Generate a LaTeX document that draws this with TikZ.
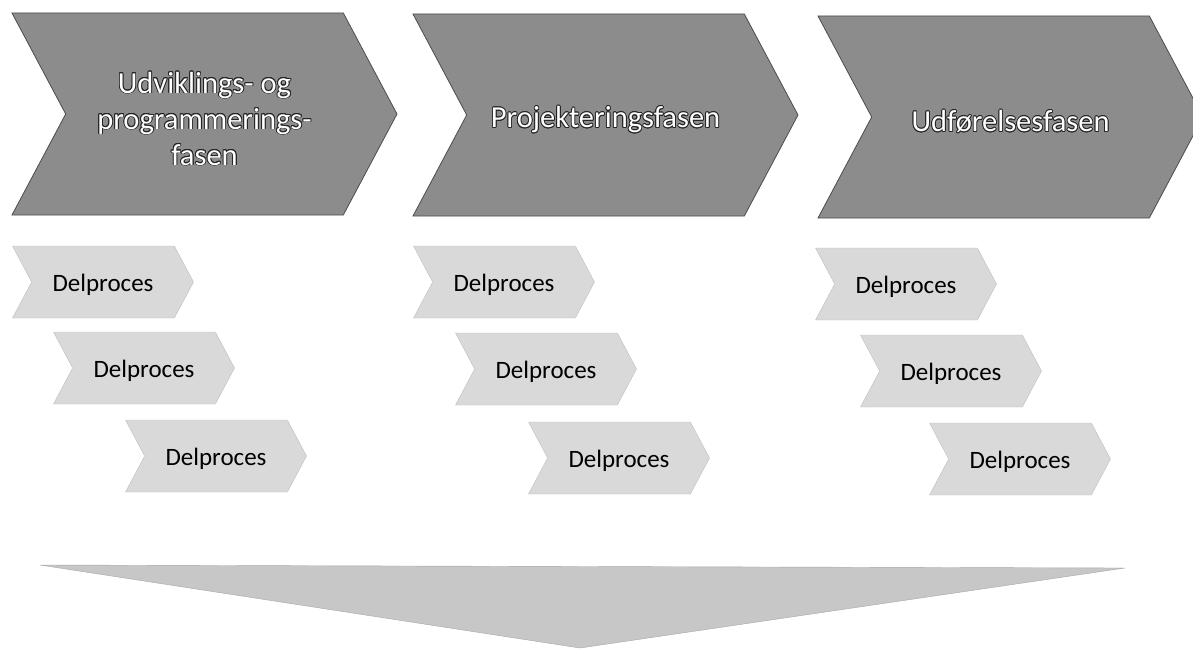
\documentclass[tikz,border=0pt]{standalone}
\usepackage{fontspec}
\setmainfont{Carlito}
\usepackage{contour}
\contourlength{0.8pt}
\usetikzlibrary{shapes.symbols}

\newcommand{\phasetext}[1]{\contour{black!85}{#1}}

\begin{document}
\begin{tikzpicture}[x=1pt, y=-1pt]

    \useasboundingbox (0,0) rectangle (1193,650);

    \tikzset{phasestyle/.style={shape=signal, signal from=west, signal to=east,
        signal pointer angle=124, fill=black!45, draw=black!70, line width=0.8pt,
        minimum width=385pt, minimum height=202pt, inner sep=0pt}}
    \tikzset{phaselabel/.style={text=white, align=center, yshift=-5pt,
        font=\fontsize{30.5}{36}\selectfont}}
    \tikzset{substyle/.style={shape=signal, signal from=west, signal to=east,
        signal pointer angle=124, fill=black!15, draw=black!25, line width=0.4pt,
        minimum width=181pt, minimum height=72pt, inner sep=0pt}}
    \tikzset{sublabel/.style={text=black, yshift=-3pt, font=\fontsize{25}{28}\selectfont}}

    % Faser
    \node[phasestyle] (f1) at ( 204.5, 114) {};
    \node[phasestyle] (f2) at ( 605.5, 115) {};
    \node[phasestyle] (f3) at ( 1010.5, 117) {};

    \node[phaselabel] (l1) at (f1) {\phasetext{Udviklings- og}\\
        \phasetext{programmerings-}\\ \phasetext{fasen}};
    \node[phaselabel] (l2) at (f2) {\phasetext{Projekteringsfasen}};
    \node[phaselabel] (l3) at (f3) {\phasetext{Udførelsesfasen}};

    % Delprocesser
    \node[substyle] (d11) at ( 103, 282) {};
    \node[substyle] (d12) at ( 144, 368) {};
    \node[substyle] (d13) at ( 216, 456) {};

    \node[substyle] (d21) at ( 504, 282) {};
    \node[substyle] (d22) at ( 546, 369) {};
    \node[substyle] (d23) at ( 619, 458) {};

    \node[substyle] (d31) at ( 906, 284) {};
    \node[substyle] (d32) at ( 951, 371) {};
    \node[substyle] (d33) at ( 1020, 459) {};

    \foreach \c in {1,2,3}
        \foreach \r in {1,2,3}
            \node[sublabel] (t\c\r) at (d\c\r) {Delproces};

    % Samlet resultat
    \coordinate (t1) at ( 40, 565);
    \coordinate (t2) at ( 1125, 568);
    \coordinate (t3) at ( 580, 648);
    \draw[fill=black!22, draw=black!35, line width=0.4pt] (t1) -- (t2) -- (t3) -- cycle;

\end{tikzpicture}
\end{document}
